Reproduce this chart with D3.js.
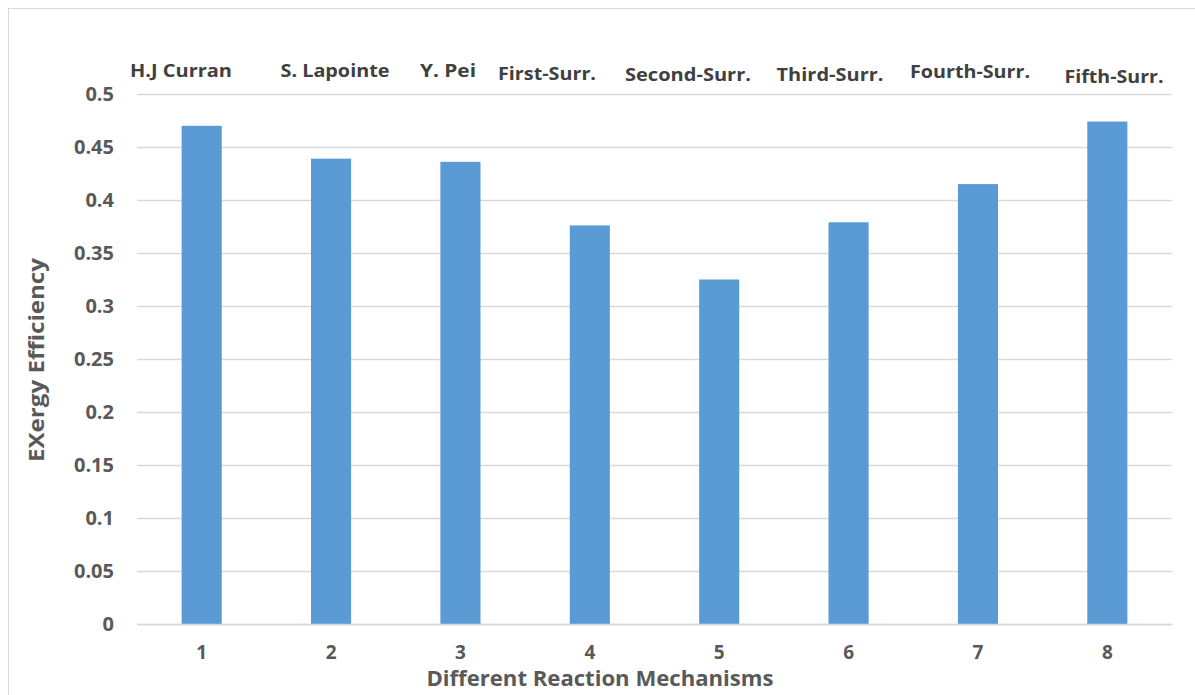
<!DOCTYPE html>
<html>
<head>
<meta charset="utf-8">
<script src="https://cdn.jsdelivr.net/npm/d3@7/dist/d3.min.js"></script>
<style>
  html, body { margin: 0; padding: 0; background: #fff; }
  svg { display: block; }
  text { font-family: "Open Sans", "Noto Sans", sans-serif; font-weight: 700; }
</style>
</head>
<body>
<svg id="chart" width="1195" height="695"></svg>
<script>
// ---- data ----
const categories = ["1", "2", "3", "4", "5", "6", "7", "8"];
const values = [0.470, 0.439, 0.436, 0.376, 0.325, 0.379, 0.415, 0.474];
const mechanismNames = ["H.J Curran", "S. Lapointe", "Y. Pei", "First-Surr.", "Second-Surr.", "Third-Surr.", "Fourth-Surr.", "Fifth-Surr."];
const yTicks = [0, 0.05, 0.1, 0.15, 0.2, 0.25, 0.3, 0.35, 0.4, 0.45, 0.5];
const yTickLabels = ["0", "0.05", "0.1", "0.15", "0.2", "0.25", "0.3", "0.35", "0.4", "0.45", "0.5"];
const xTitle = "Different Reaction Mechanisms";
const yTitle = "EXergy Efficiency";

// ---- layout (manually placed annotation boxes, pixel centres) ----
const nameBoxes = [[181, 70], [335, 70], [448, 70], [547, 73], [688, 74], [830, 74], [970, 71], [1114, 76]];
const nameWidths = [102, 109, 56, 98, 126, 107, 120, 99];

const W = 1195, H = 695;
const margin = { left: 137, right: W - 1172, top: 94, bottom: H - 624 };
const svg = d3.select("#chart");

// outer chart border
svg.append("rect")
  .attr("x", 8.5).attr("y", 8.5)
  .attr("width", W + 20).attr("height", H + 20)
  .attr("fill", "#fff").attr("stroke", "#D9D9D9").attr("stroke-width", 1);

const x = d3.scaleBand().domain(categories)
  .range([margin.left, W - margin.right])
  .paddingInner(0.69).paddingOuter(0.345);
const y = d3.scaleLinear().domain([0, 0.5]).range([H - margin.bottom, margin.top]);

// gridlines
const yAxis = d3.axisLeft(y).tickValues(yTicks)
  .tickFormat((d, i) => yTickLabels[i])
  .tickSize(-(W - margin.right - margin.left)).tickPadding(23);
const gy = svg.append("g").attr("transform", `translate(${margin.left},0)`).call(yAxis);
gy.select(".domain").remove();
gy.selectAll(".tick line").attr("stroke", "#D9D9D9").attr("stroke-width", 1.3);
gy.selectAll(".tick text")
  .attr("fill", "#595959").attr("font-size", 20).attr("font-family", "'Open Sans', sans-serif")
  .attr("font-weight", 700);

// bars
svg.append("g").selectAll("rect").data(values).join("rect")
  .attr("x", (d, i) => x(categories[i]))
  .attr("width", x.bandwidth())
  .attr("y", d => y(d))
  .attr("height", d => y(0) - y(d))
  .attr("fill", "#5B9BD5");

// x axis
const xAxis = d3.axisBottom(x).tickSize(0).tickPadding(22);
const gx = svg.append("g").attr("transform", `translate(0,${y(0)})`).call(xAxis);
gx.select(".domain").attr("stroke", "#D9D9D9").attr("stroke-width", 1.3);
gx.selectAll(".tick text")
  .attr("fill", "#595959").attr("font-size", 19).attr("font-weight", 700);

// mechanism name labels
svg.append("g").selectAll("text").data(mechanismNames).join("text")
  .attr("x", (d, i) => nameBoxes[i][0])
  .attr("y", (d, i) => nameBoxes[i][1])
  .attr("text-anchor", "middle").attr("dominant-baseline", "central")
  .attr("font-size", 17).attr("fill", "#404040")
  .attr("textLength", (d, i) => nameWidths[i]).attr("lengthAdjust", "spacingAndGlyphs")
  .text(d => d);

// axis titles
svg.append("text")
  .attr("x", 600).attr("y", 677)
  .attr("text-anchor", "middle").attr("dominant-baseline", "central")
  .attr("font-size", 22).attr("fill", "#595959")
  .attr("textLength", 347).attr("lengthAdjust", "spacingAndGlyphs")
  .text(xTitle);

svg.append("text")
  .attr("transform", "translate(35,360) rotate(-90)")
  .attr("text-anchor", "middle").attr("dominant-baseline", "central")
  .attr("font-size", 22).attr("fill", "#595959")
  .attr("textLength", 204).attr("lengthAdjust", "spacingAndGlyphs")
  .text(yTitle);
</script>
</body>
</html>
